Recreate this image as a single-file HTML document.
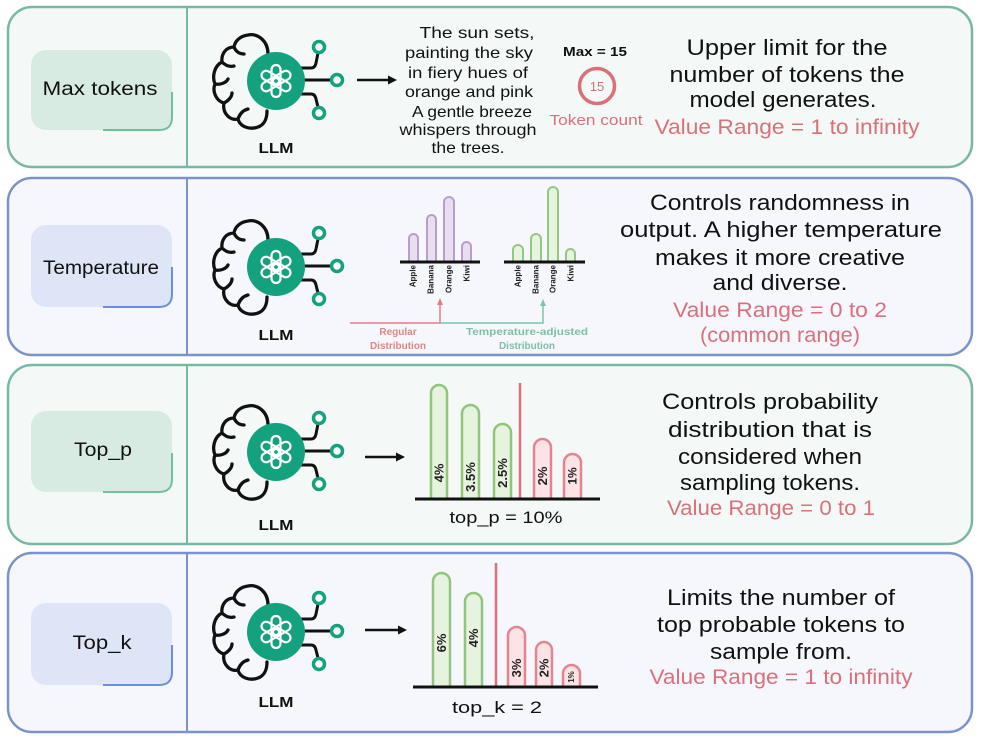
<!DOCTYPE html>
<html><head><meta charset="utf-8"><style>html,body{margin:0;padding:0;background:#fff}svg{display:block}</style></head>
<body>
<svg width="982" height="738" viewBox="0 0 982 738" xmlns="http://www.w3.org/2000/svg" font-family="Liberation Sans, DejaVu Sans, sans-serif">
<defs>
<g id="llm">
  <path d="M -8,-27 C -8,-40 -18,-48 -28,-46 C -36,-45 -41,-40 -42,-34 C -50,-34 -55,-27 -54,-19 C -62,-15 -64,-4 -61,3 C -64,10 -60,20 -52,22 C -54,32 -46,40 -38,38 C -36,46 -26,49 -18,46 C -12,44 -9,38 -9,30
  M -42,-34 C -40,-29 -36,-27 -32,-27 M -54,-19 C -50,-15 -46,-14 -42,-15 M -61,3 C -56,4 -50,2 -48,-2 M -52,22 C -48,20 -44,16 -44,12 M -38,38 C -36,32 -32,29 -28,28" fill="none" stroke="#111" stroke-width="3.3" stroke-linecap="round" stroke-linejoin="round"/>
  <path d="M 22,-13 L 35,-13 Q 39,-13 40,-18 L 42,-28 M 28,-1 L 55,-1 M 22,13 L 35,13 Q 39,13 40,18 L 42,26" fill="none" stroke="#111" stroke-width="3"/>
  <circle r="29" fill="#14a27e"/>
  <g stroke="#fff" stroke-width="2.2" fill="none">
    <rect x="-4.5" y="-16" width="9" height="19" rx="4.5"/>
    <rect x="-4.5" y="-16" width="9" height="19" rx="4.5" transform="rotate(60)"/>
    <rect x="-4.5" y="-16" width="9" height="19" rx="4.5" transform="rotate(120)"/>
    <rect x="-4.5" y="-16" width="9" height="19" rx="4.5" transform="rotate(180)"/>
    <rect x="-4.5" y="-16" width="9" height="19" rx="4.5" transform="rotate(240)"/>
    <rect x="-4.5" y="-16" width="9" height="19" rx="4.5" transform="rotate(300)"/>
  </g>
  <g fill="#fff" stroke="#14a27e" stroke-width="3.5">
    <circle cx="43" cy="-34" r="5.5"/>
    <circle cx="61" cy="-1" r="5.5"/>
    <circle cx="43" cy="32" r="5.5"/>
  </g>
</g>
</defs>

<!-- Row boxes -->
<rect x="8" y="7" width="964" height="160" rx="24" fill="#f4f8f7" stroke="#79b8a1" stroke-width="2.5"/>
<line x1="187" y1="7" x2="187" y2="167" stroke="#79b8a1" stroke-width="2"/>
<rect x="8" y="178" width="964" height="177" rx="24" fill="#f5f7fc" stroke="#7b93c9" stroke-width="2.5"/>
<line x1="187" y1="178" x2="187" y2="355" stroke="#7b93c9" stroke-width="2"/>
<rect x="8" y="365" width="964" height="179" rx="24" fill="#f4f8f7" stroke="#79b8a1" stroke-width="2.5"/>
<line x1="187" y1="365" x2="187" y2="544" stroke="#79b8a1" stroke-width="2"/>
<rect x="8" y="553" width="964" height="179" rx="24" fill="#f5f7fc" stroke="#7b93c9" stroke-width="2.5"/>
<line x1="187" y1="553" x2="187" y2="732" stroke="#7b93c9" stroke-width="2"/>

<!-- Pills -->
<rect x="31" y="50" width="141" height="80" rx="15" fill="#d8ebe3"/>
<path d="M 172,92 L 172,117 Q 172,130 159,130 L 103,130" fill="none" stroke="#6fc09d" stroke-width="2"/>
<text x="100" y="95" font-size="19" text-anchor="middle" fill="#111" textLength="115" lengthAdjust="spacingAndGlyphs">Max tokens</text>

<rect x="31" y="225" width="141" height="82" rx="15" fill="#dde5f6"/>
<path d="M 172,267 L 172,294 Q 172,307 159,307 L 103,307" fill="none" stroke="#6a8fe2" stroke-width="2"/>
<text x="101" y="274" font-size="19" text-anchor="middle" fill="#111" textLength="116" lengthAdjust="spacingAndGlyphs">Temperature</text>

<rect x="31" y="411" width="141" height="81" rx="15" fill="#d8ebe3"/>
<path d="M 172,453 L 172,479 Q 172,492 159,492 L 103,492" fill="none" stroke="#6fc09d" stroke-width="2"/>
<text x="103" y="456" font-size="19" text-anchor="middle" fill="#111" textLength="58" lengthAdjust="spacingAndGlyphs">Top_p</text>

<rect x="31" y="603" width="141" height="82" rx="15" fill="#dde5f6"/>
<path d="M 172,645 L 172,672 Q 172,685 159,685 L 103,685" fill="none" stroke="#6a8fe2" stroke-width="2"/>
<text x="102" y="649" font-size="19" text-anchor="middle" fill="#111" textLength="59" lengthAdjust="spacingAndGlyphs">Top_k</text>

<!-- LLM icons -->
<use href="#llm" x="276" y="81"/>
<use href="#llm" x="276" y="267"/>
<use href="#llm" x="276" y="452"/>
<use href="#llm" x="276" y="632"/>
<g font-size="15" font-weight="bold" text-anchor="middle" fill="#111">
<text x="276" y="153" textLength="35" lengthAdjust="spacingAndGlyphs">LLM</text>
<text x="276" y="340" textLength="35" lengthAdjust="spacingAndGlyphs">LLM</text>
<text x="276" y="530" textLength="35" lengthAdjust="spacingAndGlyphs">LLM</text>
<text x="276" y="707" textLength="35" lengthAdjust="spacingAndGlyphs">LLM</text>
</g>

<!-- Arrows -->
<g stroke="#111" stroke-width="2.5" fill="#111">
<line x1="357" y1="80" x2="391" y2="80"/>
<polygon points="397,80 388,75.5 388,84.5" stroke="none"/>
<line x1="365" y1="457" x2="399" y2="457"/>
<polygon points="405,457 396,452.5 396,461.5" stroke="none"/>
<line x1="365" y1="630" x2="401" y2="630"/>
<polygon points="407,630 398,625.5 398,634.5" stroke="none"/>
</g>

<!-- Row 1 middle -->
<g font-size="16" text-anchor="middle" fill="#111">
<text x="477" y="38" textLength="115" lengthAdjust="spacingAndGlyphs">The sun sets,</text>
<text x="469" y="58" textLength="128" lengthAdjust="spacingAndGlyphs">painting the sky</text>
<text x="468" y="78" textLength="120" lengthAdjust="spacingAndGlyphs">in fiery hues of</text>
<text x="469" y="97" textLength="128" lengthAdjust="spacingAndGlyphs">orange and pink</text>
<text x="472" y="117" textLength="120" lengthAdjust="spacingAndGlyphs">A gentle breeze</text>
<text x="468" y="135" textLength="137" lengthAdjust="spacingAndGlyphs">whispers through</text>
<text x="468" y="153" textLength="73" lengthAdjust="spacingAndGlyphs">the trees.</text>
</g>
<text x="595" y="56" font-size="13" font-weight="bold" text-anchor="middle" fill="#111" textLength="64" lengthAdjust="spacingAndGlyphs">Max = 15</text>
<circle cx="597" cy="86" r="17.5" fill="none" stroke="#d9707a" stroke-width="3.5"/>
<text x="597" y="91" font-size="13" text-anchor="middle" fill="#d9707a">15</text>
<text x="596" y="125" font-size="15" text-anchor="middle" fill="#d9707a" textLength="93" lengthAdjust="spacingAndGlyphs">Token count</text>

<!-- Right texts -->
<g font-size="22" text-anchor="middle" fill="#111">
<text x="787" y="55" textLength="201" lengthAdjust="spacingAndGlyphs">Upper limit for the</text>
<text x="787" y="82" textLength="235" lengthAdjust="spacingAndGlyphs">number of tokens the</text>
<text x="783" y="107" textLength="187" lengthAdjust="spacingAndGlyphs">model generates.</text>

<text x="780" y="210" textLength="260" lengthAdjust="spacingAndGlyphs">Controls randomness in</text>
<text x="781" y="237" textLength="322" lengthAdjust="spacingAndGlyphs">output. A higher temperature</text>
<text x="780" y="265" textLength="250" lengthAdjust="spacingAndGlyphs">makes it more creative</text>
<text x="780" y="290" textLength="135" lengthAdjust="spacingAndGlyphs">and diverse.</text>

<text x="770" y="409" textLength="216" lengthAdjust="spacingAndGlyphs">Controls probability</text>
<text x="770" y="437" textLength="204" lengthAdjust="spacingAndGlyphs">distribution that is</text>
<text x="770" y="464" textLength="184" lengthAdjust="spacingAndGlyphs">considered when</text>
<text x="770" y="490" textLength="180" lengthAdjust="spacingAndGlyphs">sampling tokens.</text>

<text x="781" y="605" textLength="228" lengthAdjust="spacingAndGlyphs">Limits the number of</text>
<text x="781" y="632" textLength="248" lengthAdjust="spacingAndGlyphs">top probable tokens to</text>
<text x="781" y="659" textLength="142" lengthAdjust="spacingAndGlyphs">sample from.</text>
</g>
<g font-size="21" text-anchor="middle" fill="#d9707a">
<text x="787" y="134" textLength="265" lengthAdjust="spacingAndGlyphs">Value Range = 1 to infinity</text>
<text x="780" y="317" textLength="214" lengthAdjust="spacingAndGlyphs">Value Range = 0 to 2</text>
<text x="780" y="342" textLength="160" lengthAdjust="spacingAndGlyphs">(common range)</text>
<text x="771" y="515" textLength="208" lengthAdjust="spacingAndGlyphs">Value Range = 0 to 1</text>
<text x="781" y="684" textLength="263" lengthAdjust="spacingAndGlyphs">Value Range = 1 to infinity</text>
</g>

<!-- Row 2 charts -->
<g stroke="#b79fca" stroke-width="2" fill="#e9def1">
<path d="M409,262 L409,238.5 A4.5,4.5 0 0 1 418,238.5 L418,262 Z"/>
<path d="M427,262 L427,219.5 A4.5,4.5 0 0 1 436,219.5 L436,262 Z"/>
<path d="M444,262 L444,202 A5,5 0 0 1 454,202 L454,262 Z"/>
<path d="M462,262 L462,246.5 A4.5,4.5 0 0 1 471,246.5 L471,262 Z"/>
</g>
<g stroke="#95c783" stroke-width="2" fill="#e6f3df">
<path d="M513,262 L513,250 A5,5 0 0 1 523,250 L523,262 Z"/>
<path d="M531,262 L531,239 A5,5 0 0 1 541,239 L541,262 Z"/>
<path d="M548,262 L548,192 A5,5 0 0 1 558,192 L558,262 Z"/>
<path d="M566,262 L566,253.5 A4.5,4.5 0 0 1 575,253.5 L575,262 Z"/>
</g>
<line x1="400" y1="262" x2="480" y2="262" stroke="#111" stroke-width="3"/>
<line x1="504" y1="262" x2="585" y2="262" stroke="#111" stroke-width="3"/>
<g font-size="8" font-weight="bold" fill="#222" text-anchor="end" dominant-baseline="central">
<text transform="translate(413,265) rotate(-90)">Apple</text>
<text transform="translate(431,265) rotate(-90)">Banana</text>
<text transform="translate(449,265) rotate(-90)">Orange</text>
<text transform="translate(467,265) rotate(-90)">Kiwi</text>
<text transform="translate(518,265) rotate(-90)">Apple</text>
<text transform="translate(536,265) rotate(-90)">Banana</text>
<text transform="translate(553,265) rotate(-90)">Orange</text>
<text transform="translate(571,265) rotate(-90)">Kiwi</text>
</g>
<path d="M350,323 L440,323 L440,303" fill="none" stroke="#e07f84" stroke-width="1.5"/>
<polygon points="440,298 437,305 443,305" fill="#e07f84"/>
<path d="M440,323 L543,323 L543,304" fill="none" stroke="#7fc2a8" stroke-width="1.5"/>
<polygon points="543,299 540,306 546,306" fill="#7fc2a8"/>
<g font-size="10" font-weight="bold" text-anchor="middle">
<text x="398" y="335" fill="#e08585">Regular</text>
<text x="398" y="349" fill="#e08585">Distribution</text>
<text x="527" y="335" fill="#7fbfa5" textLength="122" lengthAdjust="spacingAndGlyphs">Temperature-adjusted</text>
<text x="527" y="349" fill="#7fbfa5">Distribution</text>
</g>

<!-- Row 3 chart -->
<g stroke="#93c47d" stroke-width="2.5" fill="#e6f3df">
<path d="M431,499 L431,393 A8,8 0 0 1 447,393 L447,499 Z"/>
<path d="M462,499 L462,413.5 A8.5,8.5 0 0 1 479,413.5 L479,499 Z"/>
<path d="M494,499 L494,432.5 A8.5,8.5 0 0 1 511,432.5 L511,499 Z"/>
</g>
<g stroke="#e08690" stroke-width="2.5" fill="#fbe3e6">
<path d="M534,499 L534,447.5 A8.5,8.5 0 0 1 551,447.5 L551,499 Z"/>
<path d="M564,499 L564,462.5 A8.5,8.5 0 0 1 581,462.5 L581,499 Z"/>
</g>
<line x1="520" y1="383" x2="520" y2="499" stroke="#d9707a" stroke-width="2.5"/>
<line x1="415" y1="499" x2="600" y2="499" stroke="#111" stroke-width="3"/>
<g font-size="13" font-weight="bold" fill="#222" text-anchor="middle" dominant-baseline="central">
<text transform="translate(439,473) rotate(-90)">4%</text>
<text transform="translate(470.5,477) rotate(-90)">3.5%</text>
<text transform="translate(502.5,473) rotate(-90)">2.5%</text>
<text transform="translate(542.5,476) rotate(-90)">2%</text>
<text transform="translate(572.5,476) rotate(-90)" font-size="12">1%</text>
</g>
<text x="506" y="523" font-size="17" text-anchor="middle" fill="#111" textLength="113" lengthAdjust="spacingAndGlyphs">top_p = 10%</text>

<!-- Row 4 chart -->
<g stroke="#93c47d" stroke-width="2.5" fill="#e6f3df">
<path d="M433,687 L433,581.5 A8.5,8.5 0 0 1 450,581.5 L450,687 Z"/>
<path d="M465,687 L465,601.5 A8.5,8.5 0 0 1 482,601.5 L482,687 Z"/>
</g>
<g stroke="#e08690" stroke-width="2.5" fill="#fbe3e6">
<path d="M508,687 L508,635.5 A8.5,8.5 0 0 1 525,635.5 L525,687 Z"/>
<path d="M536,687 L536,650 A8,8 0 0 1 552,650 L552,687 Z"/>
<path d="M563,687 L563,673.5 A8.5,8.5 0 0 1 580,673.5 L580,687 Z"/>
</g>
<line x1="496" y1="563" x2="496" y2="687" stroke="#d9707a" stroke-width="2.5"/>
<line x1="413" y1="687" x2="598" y2="687" stroke="#111" stroke-width="3"/>
<g font-size="13" font-weight="bold" fill="#222" text-anchor="middle" dominant-baseline="central">
<text transform="translate(441.5,643) rotate(-90)">6%</text>
<text transform="translate(473.5,638) rotate(-90)">4%</text>
<text transform="translate(516.5,668) rotate(-90)">3%</text>
<text transform="translate(544,668) rotate(-90)">2%</text>
<text transform="translate(571.5,677) rotate(-90)" font-size="8">1%</text>
</g>
<text x="497" y="713" font-size="17" text-anchor="middle" fill="#111" textLength="90" lengthAdjust="spacingAndGlyphs">top_k = 2</text>
</svg>
</body></html>
